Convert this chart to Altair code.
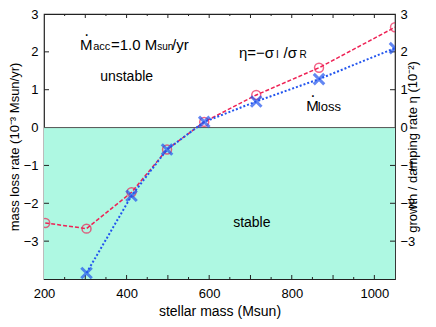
import altair as alt
import pandas as pd

# ---- data ----
mass_eta = [203, 303, 412, 498, 588, 714, 866, 1050]
eta_vals = [-2.52, -2.67, -1.71, -0.58, 0.15, 0.86, 1.58, 2.65]
mass_loss = [303, 412, 498, 588, 714, 866, 1050]
loss_vals = [-3.84, -1.80, -0.58, 0.15, 0.69, 1.28, 2.10]

x_labels = [200, 400, 600, 800, 1000]
y_labels = [-3, -2, -1, 0, 1, 2, 3]
x_minor = [250, 350, 450, 550, 650, 750, 850, 950]
x_major = [300, 400, 500, 600, 700, 800, 900, 1000]
y_ticks = [-3, -2, -1, 1, 2]

ann_text = ["M", "·", "acc", "=1.0 M", "sun", "/yr", "unstable",
            "η=−σ", "I", "/σ", "R", "M", "·", "loss", "stable"]
ann_x = [287, 297, 319, 362, 474, 510, 336,
         672, 762, 780, 819, 835, 845, 863, 658]
ann_y = [2.04, 2.31, 2.04, 2.04, 2.04, 2.04, 1.22,
         1.84, 1.84, 1.84, 1.84, 0.43, 0.70, 0.43, -2.63]
ann_size = [15, 16, 11, 15, 10, 15, 14,
            15, 10, 15, 10, 15, 16, 13, 14]

W, H = 351, 265
FONT = "Liberation Sans"
RED = "#ee2255"
BLUE = "#2255ee"
FILL = "#aef8e2"

xs = alt.Scale(domain=[200, 1050], nice=False, zero=False)
ys = alt.Scale(domain=[-4, 3], nice=False, zero=False)

df_eta = pd.DataFrame({"m": mass_eta, "v": eta_vals})
df_loss = pd.DataFrame({"m": mass_loss, "v": loss_vals})
df_fill = pd.DataFrame({"y": [0], "y2": [-4]})
df_ann = pd.DataFrame({"t": ann_text, "x": ann_x, "y": ann_y, "s": ann_size})

x_axis = alt.Axis(values=x_labels, format="d", labelFlush=False,
                  tickSize=0, domain=False, grid=False,
                  labelFontSize=13, labelFont=FONT, labelColor="black",
                  labelPadding=8, title="stellar mass (Msun)",
                  titleFont=FONT, titleFontSize=14, titleFontWeight="normal",
                  titleColor="black", titlePadding=4)
y_axis_left = alt.Axis(values=y_labels, labelFlush=False, tickSize=0,
                       domain=False, grid=False,
                       labelFontSize=13, labelFont=FONT, labelColor="black",
                       labelPadding=6, title="mass loss rate (10⁻³ Msun/yr)",
                       titleFont=FONT, titleFontSize=13, titleFontWeight="normal",
                       titleColor="black", titlePadding=2)
y_axis_right = alt.Axis(values=y_labels, labelFlush=False, tickSize=0,
                        domain=False, grid=False,
                        orient="right", labelFontSize=13, labelFont=FONT,
                        labelColor="black", labelPadding=5,
                        title="growth / damping rate  η  (10⁻²)",
                        titleFont=FONT, titleFontSize=13, titleFontWeight="normal",
                        titleColor="black", titlePadding=5, titleAngle=270)

fill = alt.Chart(df_fill).mark_rect(color=FILL).encode(
    x=alt.value(0), x2=alt.value(W),
    y=alt.Y("y:Q", scale=ys, axis=None), y2="y2:Q")

zero = alt.Chart(df_fill).mark_rule(color="#555", strokeWidth=1).encode(
    y=alt.Y("y:Q", scale=ys, axis=None), x=alt.value(0), x2=alt.value(W))

eta_line = alt.Chart(df_eta).mark_line(color=RED, strokeWidth=1.5,
                                       strokeDash=[4, 2], clip=True).encode(
    x=alt.X("m:Q", scale=xs, axis=x_axis),
    y=alt.Y("v:Q", scale=ys, axis=y_axis_left))
eta_pts = alt.Chart(df_eta).mark_point(shape="circle", filled=False, color=RED,
                                       size=80, strokeWidth=1.5, clip=True).encode(
    x=alt.X("m:Q", scale=xs, axis=None), y=alt.Y("v:Q", scale=ys, axis=None))

loss_line = alt.Chart(df_loss).mark_line(color=BLUE, strokeWidth=2,
                                         strokeDash=[2, 2], clip=True).encode(
    x=alt.X("m:Q", scale=xs, axis=None),
    y=alt.Y("v:Q", scale=ys, axis=y_axis_right))
loss_pts = alt.Chart(df_loss).mark_point(shape="M-1,-1L1,1M-1,1L1,-1",
                                         filled=False, color=BLUE, size=110,
                                         strokeWidth=3, clip=True).encode(
    x=alt.X("m:Q", scale=xs, axis=None), y=alt.Y("v:Q", scale=ys, axis=None))

ann = alt.Chart(df_ann).mark_text(align="left", baseline="alphabetic",
                                  font=FONT, color="black").encode(
    x=alt.X("x:Q", scale=xs, axis=None), y=alt.Y("y:Q", scale=ys, axis=None),
    text="t:N", size=alt.Size("s:Q", scale=None, legend=None))

# inward tick marks on the frame
df_xmaj = pd.DataFrame({"v": x_major})
df_xmin = pd.DataFrame({"v": x_minor})
df_yt = pd.DataFrame({"v": y_ticks})
tick_col = "#222"
bx_maj = alt.Chart(df_xmaj).mark_rule(color=tick_col).encode(
    x=alt.X("v:Q", scale=xs, axis=None), y=alt.value(H), y2=alt.value(H - 4))
bx_min = alt.Chart(df_xmin).mark_rule(color=tick_col).encode(
    x=alt.X("v:Q", scale=xs, axis=None), y=alt.value(H), y2=alt.value(H - 2))
tx_maj = alt.Chart(df_xmaj).mark_rule(color=tick_col).encode(
    x=alt.X("v:Q", scale=xs, axis=None), y=alt.value(0), y2=alt.value(4))
tx_min = alt.Chart(df_xmin).mark_rule(color=tick_col).encode(
    x=alt.X("v:Q", scale=xs, axis=None), y=alt.value(0), y2=alt.value(2))
ly = alt.Chart(df_yt).mark_rule(color=tick_col).encode(
    y=alt.Y("v:Q", scale=ys, axis=None), x=alt.value(0), x2=alt.value(5))
ry = alt.Chart(df_yt).mark_rule(color=tick_col).encode(
    y=alt.Y("v:Q", scale=ys, axis=None), x=alt.value(W), x2=alt.value(W - 5))

chart = alt.layer(
    fill, zero, bx_maj, bx_min, tx_maj, tx_min, ly, ry,
    eta_line, eta_pts, loss_line, loss_pts, ann
).resolve_scale(y="shared", x="shared").resolve_axis(
    y="independent", x="independent"
).properties(
    width=W, height=H,
    autosize=alt.AutoSizeParams(type="none"),
    padding={"left": 36, "top": 6, "right": 33, "bottom": 40},
).configure_view(stroke="#222", strokeWidth=1.2)

chart.save("out.html", embed_options={"renderer": "svg", "actions": False})
